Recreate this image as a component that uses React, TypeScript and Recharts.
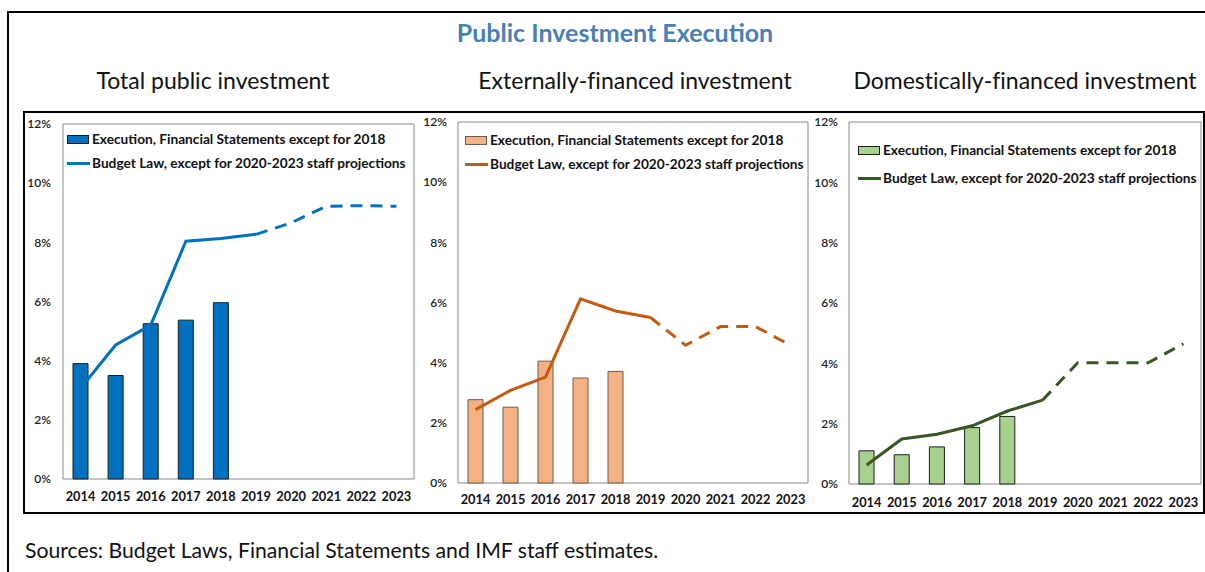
import React from 'react'
import {
  ComposedChart, Bar, Line, XAxis, YAxis, ReferenceArea,
} from 'recharts'

// ── Data (% of GDP) ─────────────────────────────────────────────────────────

const years = ['2014', '2015', '2016', '2017', '2018', '2019', '2020', '2021', '2022', '2023']
const yTicks = [0, 2, 4, 6, 8, 10, 12]

const totalExecution = [3.9, 3.5, 5.25, 5.37, 5.96]
const totalBudget = [3.07, 4.53, 5.2, 8.04, 8.13, 8.27, 8.66, 9.22, 9.24, 9.22]

const externalExecution = [2.77, 2.52, 4.05, 3.49, 3.71]
const externalBudget = [2.44, 3.08, 3.52, 6.12, 5.72, 5.5, 4.58, 5.2, 5.2, 4.58]

const domesticExecution = [1.1, 0.97, 1.23, 1.87, 2.24]
const domesticBudget = [0.63, 1.49, 1.65, 1.93, 2.42, 2.78, 4.02, 4.02, 4.02, 4.65]

// last year of Budget Law figures, projections are dashed afterwards
const LAST_ACTUAL = 5

const EXEC_LABEL = 'Execution, Financial Statements except for 2018'
const BUDGET_LABEL = 'Budget Law, except for 2020-2023 staff projections'

const FONT = 'Lato, "Open Sans", sans-serif'

function buildRows(execution: number[], budget: number[]) {
  return years.map((year, i) => ({
    year,
    execution: execution[i] ?? null,
    budget: i <= LAST_ACTUAL ? budget[i] : null,
    projection: i >= LAST_ACTUAL ? budget[i] : null,
  }))
}

// ── Legend (drawn over the plot area, as in the Excel original) ─────────────

type LegendProps = {
  left: number
  top: number
  gap: number
  barFill: string
  barStroke: string
  lineColor: string
}

function PanelLegend({ left, top, gap, barFill, barStroke, lineColor }: LegendProps) {
  const text: React.CSSProperties = {
    fontFamily: FONT, fontWeight: 700, fontSize: 13.7, color: '#111', whiteSpace: 'nowrap', lineHeight: '16px',
  }
  return (
    <div style={{ position: 'absolute', left, top, pointerEvents: 'none' }}>
      <div style={{ display: 'flex', alignItems: 'center', height: 16 }}>
        <div style={{ width: 20, height: 7, background: barFill, border: `1px solid ${barStroke}`, marginRight: 3 }} />
        <span style={text}>{EXEC_LABEL}</span>
      </div>
      <div style={{ display: 'flex', alignItems: 'center', height: 16, marginTop: gap - 16 }}>
        <div style={{ width: 23, height: 3, background: lineColor, marginRight: 2 }} />
        <span style={text}>{BUDGET_LABEL}</span>
      </div>
    </div>
  )
}

// ── One panel ────────────────────────────────────────────────────────────────

type PanelProps = {
  left: number
  width: number
  margin: { top: number; right: number; left: number; bottom: number }
  yWidth: number
  yGap: number
  xHeight: number
  xGap: number
  execution: number[]
  budget: number[]
  barFill: string
  barStroke: string
  lineColor: string
}

function Panel(p: PanelProps) {
  const rows = buildRows(p.execution, p.budget)
  return (
    <div style={{ position: 'absolute', left: p.left, top: 112 }}>
      <ComposedChart width={p.width} height={400} data={rows} margin={p.margin}>
        <XAxis
          dataKey="year"
          height={p.xHeight}
          tickLine={false}
          axisLine={false}
          tickSize={0}
          tickMargin={p.xGap}
          interval={0}
          tick={{ fontFamily: FONT, fontSize: 12.8, fontWeight: 700, fill: '#111' }}
        />
        <YAxis
          domain={[0, 12]}
          ticks={yTicks}
          width={p.yWidth}
          tickLine={false}
          axisLine={false}
          tickSize={0}
          tickMargin={p.yGap}
          tickFormatter={(v: number) => `${v}%`}
          tick={{ fontFamily: FONT, fontSize: 12, fontWeight: 600, fill: '#222' }}
        />
        <ReferenceArea y1={0} y2={12} fill="none" stroke="#8a8a8a" strokeWidth={1} ifOverflow="extendDomain" />
        <Bar dataKey="execution" barSize={15} fill={p.barFill} stroke={p.barStroke} strokeWidth={1} isAnimationActive={false} />
        <Line dataKey="budget" type="linear" stroke={p.lineColor} strokeWidth={3} dot={false} activeDot={false} isAnimationActive={false} />
        <Line dataKey="projection" type="linear" stroke={p.lineColor} strokeWidth={3} strokeDasharray="12 8" dot={false} activeDot={false} isAnimationActive={false} />
      </ComposedChart>
    </div>
  )
}

// ── Main ─────────────────────────────────────────────────────────────────────

export default function App() {
  const subtitle: React.CSSProperties = {
    position: 'absolute', top: 65, fontFamily: FONT, fontSize: 23, color: '#111', whiteSpace: 'nowrap',
    transform: 'translateX(-50%)', lineHeight: '30px', fontVariantLigatures: 'none',
  }
  return (
    <div style={{ position: 'absolute', left: 0, top: 0, width: 1205, height: 572, overflow: 'hidden', background: '#fff' }}>
      {/* page border (top and left visible) */}
      <div style={{ position: 'absolute', left: 7, top: 11, width: 1220, height: 600, borderTop: '2px solid #000', borderLeft: '2px solid #000' }} />

      <div style={{
        position: 'absolute', left: 615, top: 17, transform: 'translateX(-50%)', whiteSpace: 'nowrap',
        fontFamily: FONT, fontWeight: 700, fontSize: 25, color: '#4a7fb3', lineHeight: '30px',
      }}>
        Public Investment Execution
      </div>

      <div style={{ ...subtitle, left: 213 }}>Total public investment</div>
      <div style={{ ...subtitle, left: 635 }}>Externally-financed investment</div>
      <div style={{ ...subtitle, left: 1025 }}>Domestically-financed investment</div>

      <Panel
        left={24} width={396}
        margin={{ top: 12, right: 6, left: 0, bottom: 0 }}
        yWidth={39} yGap={12} xHeight={33} xGap={13}
        execution={totalExecution} budget={totalBudget}
        barFill="#0070c0" barStroke="#1c1c1c" lineColor="#0070c0"
      />
      <Panel
        left={420} width={393}
        margin={{ top: 10, right: 5, left: 0, bottom: 0 }}
        yWidth={38} yGap={11} xHeight={29} xGap={12}
        execution={externalExecution} budget={externalBudget}
        barFill="#f4b183" barStroke="#6e5a4e" lineColor="#c55a11"
      />
      <Panel
        left={813} width={390}
        margin={{ top: 10, right: 2, left: 0, bottom: 0 }}
        yWidth={36} yGap={11} xHeight={28} xGap={14}
        execution={domesticExecution} budget={domesticBudget}
        barFill="#a9d18e" barStroke="#1c1c1c" lineColor="#375623"
      />

      <PanelLegend left={67} top={131} gap={24} barFill="#0070c0" barStroke="#1c1c1c" lineColor="#0070c0" />
      <PanelLegend left={465} top={132} gap={24} barFill="#f4b183" barStroke="#6e5a4e" lineColor="#c55a11" />
      <PanelLegend left={858} top={142} gap={28} barFill="#a9d18e" barStroke="#1c1c1c" lineColor="#375623" />

      {/* frame around the three panels */}
      <div style={{ position: 'absolute', left: 23, top: 111, width: 1178, height: 399, border: '2px solid #000', pointerEvents: 'none' }} />

      <div style={{
        position: 'absolute', left: 25, top: 536, fontFamily: FONT, fontSize: 21.2, color: '#111', whiteSpace: 'nowrap', lineHeight: '28px',
      }}>
        Sources: Budget Laws, Financial Statements and IMF staff estimates.
      </div>
    </div>
  )
}
